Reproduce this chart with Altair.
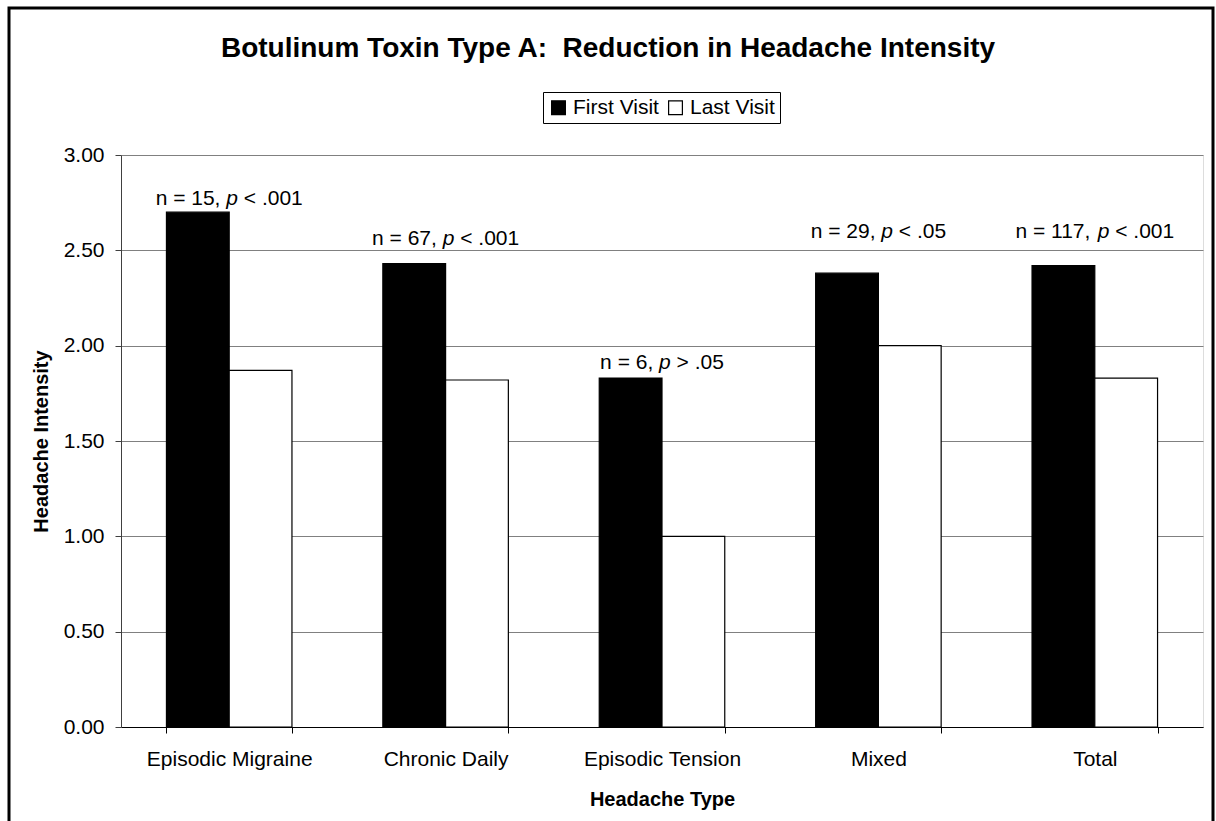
import altair as alt
import pandas as pd

# ---- data ----
categories = ["Episodic Migraine", "Chronic Daily", "Episodic Tension", "Mixed", "Total"]
series = ["First Visit", "Last Visit"]
first_visit = [2.70, 2.43, 1.83, 2.38, 2.42]
last_visit = [1.87, 1.82, 1.00, 2.00, 1.83]
n_values = [15, 67, 6, 29, 117]
p_ops = ["<", "<", ">", "<", "<"]
p_values = [".001", ".001", ".05", ".05", ".001"]
label_levels = [2.74, 2.53, 1.88, 2.565, 2.565]
y_ticks = [0, 0.5, 1.0, 1.5, 2.0, 2.5, 3.0]

FONT = "Liberation Sans"
LABEL_FS = 21

rows = []
for c, f, l in zip(categories, first_visit, last_visit):
    rows.append({"category": c, "visit": series[0], "value": f})
    rows.append({"category": c, "visit": series[1], "value": l})
bar_df = pd.DataFrame(rows)

x_enc = alt.X(
    "category:N", sort=categories,
    scale=alt.Scale(paddingInner=0.42, paddingOuter=0.21),
    axis=alt.Axis(title="Headache Type", labelAngle=0, tickBand="extent",
                  labelFontSize=21, titleFontSize=20, titleFontWeight="bold",
                  labelPadding=15, titlePadding=20, tickSize=6,
                  domainColor="black", tickColor="black", domainWidth=1.2,
                  grid=False),
)


def y_enc(field):
    return alt.Y(
        field + ":Q",
        scale=alt.Scale(domain=[0, 3], nice=False, zero=True),
        axis=alt.Axis(title="Headache Intensity", values=y_ticks, format=".2f",
                      labelFontSize=21, titleFontSize=20, titleFontWeight="bold",
                      labelPadding=11, titlePadding=12, tickSize=6,
                      domainColor="#404040", tickColor="#404040",
                      grid=True, gridColor="#808080", gridWidth=1),
    )


bars = alt.Chart(bar_df).mark_bar(stroke="black", strokeWidth=1.2).encode(
    x=x_enc,
    xOffset=alt.XOffset("visit:N", sort=series,
                        scale=alt.Scale(paddingInner=0, paddingOuter=0)),
    y=y_enc("value"),
    color=alt.Color(
        "visit:N", sort=series,
        scale=alt.Scale(domain=series, range=["black", "white"]),
        legend=alt.Legend(title=None, orient="none", legendX=422, legendY=-63,
                          direction="horizontal", symbolType="square",
                          symbolSize=190, symbolStrokeColor="black",
                          symbolStrokeWidth=1.2, labelFont=FONT,
                          labelFontSize=21, labelColor="black",
                          labelOffset=4, columnPadding=6,
                          strokeColor="black", fillColor="white", padding=5),
    ),
)

# ---- n / p annotations (italic p) ----
W = {"n": 556, " ": 278, "=": 584, ",": 278, "p": 556, "<": 584, ">": 584, ".": 278}
for d in "0123456789":
    W[d] = 556


def tw(s):
    return sum(W[ch] for ch in s) / 1000.0 * LABEL_FS


layers = [bars]
for c, n, op, pv, lv in zip(categories, n_values, p_ops, p_values, label_levels):
    full = f"n = {n}, p {op} {pv}"
    left = -tw(full) / 2
    d = pd.DataFrame([{"category": c, "level": lv,
                       "pre": f"n = {n},", "p": "p", "post": f"{op} {pv}"}])
    parts = [
        ("pre", left, "normal"),
        ("p", left + tw(f"n = {n}, "), "italic"),
        ("post", left + tw(f"n = {n}, p "), "normal"),
    ]
    for field, dx, style in parts:
        layers.append(
            alt.Chart(d).mark_text(align="left", baseline="alphabetic", dx=dx,
                                   font=FONT, fontSize=LABEL_FS, fontStyle=style,
                                   color="black").encode(
                x=x_enc, y=y_enc("level"), text=alt.Text(field + ":N"))
        )

# outer frame of the figure
frame = alt.Chart(pd.DataFrame([{"k": 1}])).mark_rect(
    fillOpacity=0, stroke="black", strokeWidth=3).encode(
    x=alt.value(-112), x2=alt.value(1092), y=alt.value(-147), y2=alt.value(680))
layers.append(frame)

chart = alt.layer(*layers).properties(
    width=1082, height=572,
    autosize=alt.AutoSizeParams(type="none"),
    padding={"left": 121, "top": 155, "right": 13, "bottom": 94},
    title=alt.TitleParams(
        text="Botulinum Toxin Type A:\u00a0 Reduction in Headache Intensity",
        font=FONT, fontSize=28, fontWeight="bold", color="black",
        anchor="middle", dx=-54, offset=-56),
).configure_view(stroke="#808080", strokeWidth=1).configure_axis(
    labelFont=FONT, titleFont=FONT, labelColor="black", titleColor="black"
).configure(background="white")

chart.save("out.html", embed_options={"renderer": "svg", "actions": False})
